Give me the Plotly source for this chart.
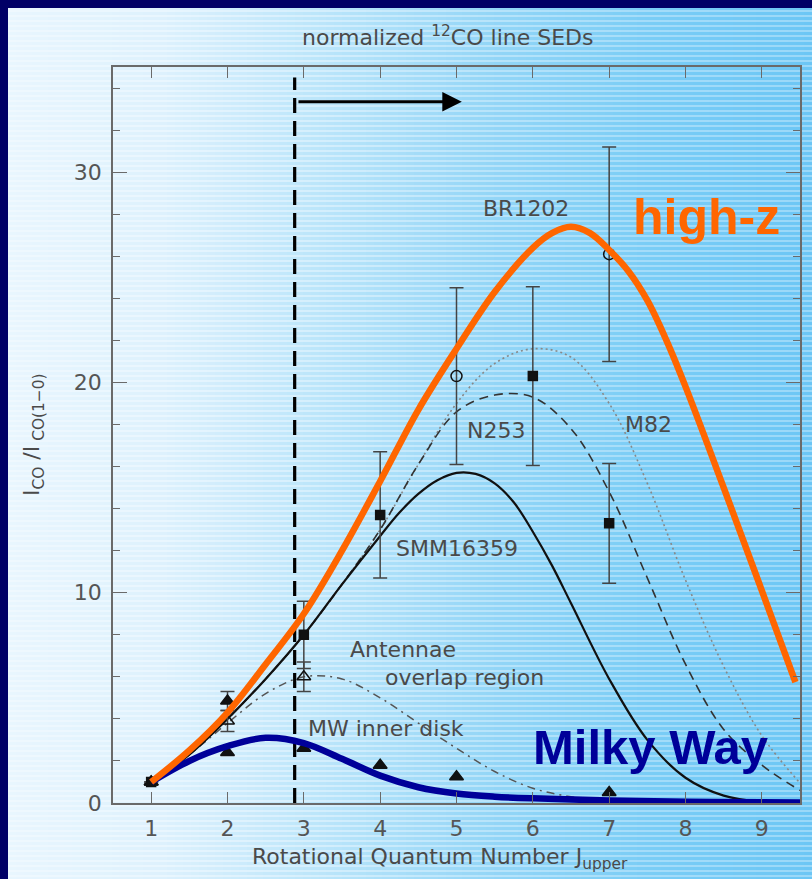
import numpy as np
import plotly.graph_objects as go

W, H = 812, 879

# ---- model SEDs (line intensity normalised to CO 1-0) sampled in J_upper ----
j_grid = [1, 1.5, 2, 2.5, 3, 3.5, 4, 4.5, 5, 5.5, 6, 6.5, 7, 7.5, 8, 8.5, 9, 9.5]
n253_curve = [1.0, 2.3, 4.0, 5.9, 8.0, 10.4, 13.0, 16.1, 18.6, 19.4, 19.3, 17.8, 14.8, 10.7, 6.6, 3.5, 1.8, 0.6]
m82_curve = [1.0, 2.3, 4.0, 5.9, 8.0, 10.4, 13.0, 16.1, 19.0, 20.9, 21.6, 21.2, 19.0, 15.2, 10.6, 6.5, 3.2, 0.95]

j_smm = [1, 1.5, 2, 2.5, 3, 3.5, 4, 4.25, 4.5, 4.75, 5, 5.25, 5.5, 5.75, 6, 6.25, 6.5, 7, 7.5, 8, 8.5, 9, 9.5]
smm16359_curve = [1.0, 2.3, 4.0, 5.9, 8.0, 10.4, 12.7, 13.8, 14.7, 15.35, 15.7, 15.65, 15.2, 14.3, 12.9, 11.3, 9.5, 5.9, 3.0, 1.2, 0.35, 0.05, 0.0]

j_antennae = [1, 1.5, 2, 2.5, 3, 3.5, 4, 4.5, 5, 5.5, 6, 6.5, 7, 7.5, 8]
antennae_curve = [1.0, 2.3, 3.8, 5.2, 6.0, 5.9, 5.0, 3.8, 2.6, 1.5, 0.7, 0.3, 0.1, 0.03, 0.0]

j_highz = [1, 1.5, 2, 2.5, 3, 3.5, 4, 4.5, 5, 5.5, 6, 6.25, 6.5, 6.75, 7, 7.25, 7.5, 7.75, 8, 8.5, 9, 9.44]
highz_curve = [1.0, 2.5, 4.3, 6.6, 9.0, 12.0, 15.3, 18.7, 21.6, 24.3, 26.4, 27.1, 27.4, 27.1, 26.3, 25.3, 23.9, 22.0, 19.8, 15.0, 10.1, 5.75]

j_milkyway = [1, 1.5, 2, 2.5, 3, 3.5, 4, 4.5, 5, 5.5, 6, 7, 8, 9, 9.5]
milkyway_curve = [1.0, 2.0, 2.7, 3.1, 2.85, 2.1, 1.3, 0.75, 0.45, 0.3, 0.22, 0.12, 0.06, 0.03, 0.02]

# ---- measured line ratios ----
sq_j = [1, 3, 4, 6, 7]
sq_val = [1.0, 8.0, 13.7, 20.3, 13.3]
sq_err = [0.0, 1.6, 3.0, 4.25, 2.85]

circ_j = [5, 7]
circ_val = [20.3, 26.1]
circ_err = [4.2, 5.1]

open_tri_j = [1, 2, 3]
open_tri_val = [1.0, 3.9, 6.0]
open_tri_err = [0.0, 0.5, 0.7]

fill_tri_err_j = [2]
fill_tri_err_val = [4.85]
fill_tri_err_err = [0.45]

mw_j = [1, 2, 3, 4, 5, 7]
mw_val = [1.0, 2.4, 2.6, 1.8, 1.25, 0.5]

# critical-density marker and arrow
j_cut = 2.88
cut_top = 34.5
arrow_y = 33.35
arrow_end = 5.07

x_ticks = [1, 2, 3, 4, 5, 6, 7, 8, 9]
y_ticks = [0, 10, 20, 30]

# ---- striped, horizontally graded backdrop ----
ncol = 104
xe = np.linspace(8, W + 24, ncol + 1)
t = np.clip((xe[:-1] + xe[1:]) / 2 / W, 0, 1)
rows = np.arange(8, H + 16)
light = (rows % 5) < 2
z = np.where(light[:, None], t[None, :], 2 + t[None, :]).round(3)
ye = np.arange(8, H + 17)

light_cols = [(0.0, "#eff8fe"), (0.2, "#e9f6fe"), (0.4, "#d4eefc"), (0.6, "#b8e4fa"), (0.8, "#a4dcf9"), (1.0, "#9ad8f8")]
dark_cols = [(0.0, "#e9f6fe"), (0.2, "#ddf1fd"), (0.4, "#bae5fa"), (0.6, "#94d6f7"), (0.8, "#7acdf6"), (1.0, "#6cc6f5")]
cscale = [[p / 3, c] for p, c in light_cols] + [[(2 + p) / 3, c] for p, c in dark_cols]

fig = go.Figure()
fig.add_trace(go.Heatmap(
    x=xe.tolist(), y=ye.tolist(), z=z.tolist(), colorscale=cscale, zmin=0, zmax=3,
    showscale=False, hoverinfo="skip", zsmooth=False, xaxis="x", yaxis="y"))

AX = dict(xaxis="x2", yaxis="y2")

def curve(xs, ys, color, width, dash=None):
    fig.add_trace(go.Scatter(x=xs, y=ys, mode="lines", line=dict(color=color, width=width, dash=dash,
                             shape="spline", smoothing=1.0), hoverinfo="skip", showlegend=False, **AX))

curve(j_antennae, antennae_curve, "#555555", 1.5, "8px,5px,2px,5px")
curve(j_grid, m82_curve, "#888888", 1.6, "2px,3px")
curve(j_grid, n253_curve, "#333333", 1.6, "9px,6px")
curve(j_smm, smm16359_curve, "#111111", 2.2)

def points(xs, ys, errs, symbol, size):
    fig.add_trace(go.Scatter(
        x=xs, y=ys, mode="markers",
        marker=dict(symbol=symbol, size=size, color="#111111", line=dict(color="#111111", width=1.5)),
        error_y=dict(type="data", array=errs, visible=errs is not None, color="#444444", thickness=1.5, width=7),
        hoverinfo="skip", showlegend=False, **AX))

points(mw_j, mw_val, None, "triangle-up", 12)
points(fill_tri_err_j, fill_tri_err_val, fill_tri_err_err, "triangle-up", 12)
points(open_tri_j, open_tri_val, open_tri_err, "triangle-up-open", 12)
points(sq_j, sq_val, sq_err, "square", 9)
points(circ_j, circ_val, circ_err, "circle-open", 11)

# vertical dashed cut
fig.add_trace(go.Scatter(x=[j_cut, j_cut], y=[0, cut_top], mode="lines",
                         line=dict(color="black", width=3.2, dash="15px,8px"),
                         hoverinfo="skip", showlegend=False, **AX))

curve(j_milkyway, milkyway_curve, "#000099", 6.5)
curve(j_highz, highz_curve, "#ff6600", 6.5)

GREY = "#4a4a4a"
FONT = "DejaVu Sans"

def label(txt, x, y, size=22, color=GREY, bold=False, family=FONT):
    fig.add_annotation(x=x, y=y, xref="x2", yref="y2", text=(f"<b>{txt}</b>" if bold else txt),
                       xanchor="center", yanchor="middle",
                       showarrow=False, font=dict(family=family, size=size, color=color))

label("BR1202", 5.91, 28.25)
label("N253", 5.52, 17.69)
label("M82", 7.52, 18.02)
label("SMM16359", 5.01, 12.08)
label("Antennae", 4.30, 7.28)
label("overlap region", 5.10, 5.95)
label("MW inner disk", 4.08, 3.55)
label("high-z", 8.28, 27.85, size=50, color="#ff6600", bold=True, family="Liberation Sans")
label("Milky Way", 7.54, 2.65, size=49, color="#000099", bold=True, family="Liberation Sans")

# arrow pointing to higher J
fig.add_annotation(x=arrow_end, y=arrow_y, ax=j_cut + 0.03, ay=arrow_y, xref="x2", yref="y2",
                   axref="x2", ayref="y2", text="", showarrow=True, arrowhead=2, arrowsize=1.3,
                   arrowwidth=3, arrowcolor="black")

# titles
def paper_text(txt, x, y, angle=0):
    fig.add_annotation(x=x / W, y=1 - y / H, xref="paper", yref="paper", showarrow=False,
                       xanchor="center", yanchor="middle", textangle=angle,
                       text=txt, font=dict(family=FONT, size=22, color=GREY))

paper_text("normalized <sup>12</sup>CO line SEDs", 447, 36)
paper_text("Rotational Quantum Number J<sub>upper</sub>", 440, 858)
paper_text("I<sub>CO</sub> /I<sub> CO(1\u22120)</sub>", 33, 435, angle=-90)

AXCOL = "#6a6a6a"
fig.update_layout(
    width=W, height=H, margin=dict(l=0, r=0, t=0, b=0, autoexpand=False),
    paper_bgcolor="#000066", plot_bgcolor="rgba(0,0,0,0)", showlegend=False,
    xaxis=dict(domain=[0, 1], range=[0, W], visible=False, fixedrange=True),
    yaxis=dict(domain=[0, 1], range=[H, 0], visible=False, fixedrange=True),
    xaxis2=dict(domain=[113 / W, 800 / W], range=[0.5, 9.5], anchor="y2",
                showline=True, linecolor=AXCOL, linewidth=1.5, mirror="ticks",
                ticks="inside", ticklen=11, tickwidth=1.3, tickcolor=AXCOL,
                tickvals=x_ticks, showgrid=False, zeroline=False,
                tickfont=dict(family=FONT, size=22, color="#555555"), ticklabelstandoff=5),
    yaxis2=dict(domain=[(H - 803) / H, (H - 67) / H], range=[0, 35], anchor="x2",
                showline=True, linecolor=AXCOL, linewidth=1.5, mirror="ticks",
                ticks="inside", ticklen=14, tickwidth=1.3, tickcolor=AXCOL,
                tickvals=y_ticks, showgrid=False, zeroline=False,
                minor=dict(dtick=2, ticks="inside", ticklen=7, tickwidth=1.3, tickcolor=AXCOL),
                tickfont=dict(family=FONT, size=22, color="#555555"), ticklabelstandoff=5),
)

fig.write_html("out.html")
